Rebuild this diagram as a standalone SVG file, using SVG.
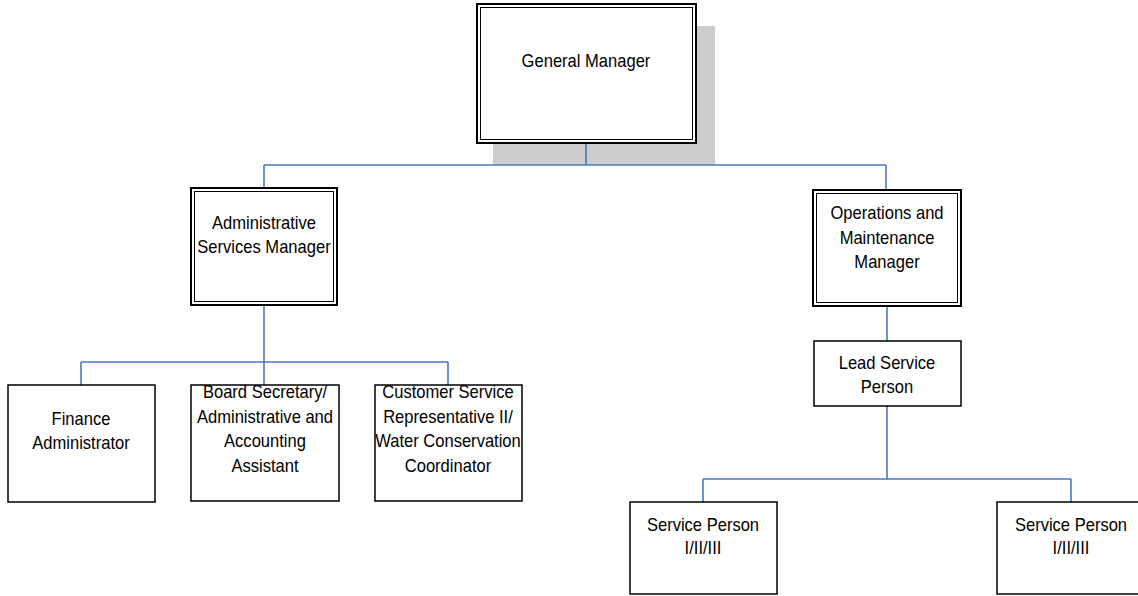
<svg xmlns="http://www.w3.org/2000/svg" width="1138" height="596" viewBox="0 0 1138 596">
<style>
text{font-family:"Liberation Sans",Arial,sans-serif;font-size:18.6px;fill:#000;text-anchor:middle}
.box{fill:#fff;stroke:#000;stroke-width:1.5}
.outer{fill:#fff;stroke:#000;stroke-width:2}
.inner{fill:none;stroke:#000;stroke-width:1}
.conn{fill:none;stroke:#4a78c2;stroke-width:1.6}
</style>
<rect x="0" y="0" width="1138" height="596" fill="#fff"/>
<rect x="493" y="26" width="222" height="139" fill="#cccccc"/>
<g id="connectors">
<path class="conn" d="M586 143V165M264 165H886M264 165V188M886 165V190"/>
<path class="conn" d="M264 305V362M81 362H448M81 362V385M264 362V385M448 362V385"/>
<path class="conn" d="M887 306V341"/>
<path class="conn" d="M887 406V479M703 479H1071M703 479V502M1071 479V502"/>
</g>
<g id="general-manager">
<rect class="outer" x="477" y="4" width="219" height="139"/>
<rect class="inner" x="480.5" y="7.5" width="212" height="132"/>
<g transform="matrix(0.89 0 0 1 64.46 0)"><text x="586" y="67">General Manager</text></g>
</g>
<g id="admin-services-manager">
<rect class="outer" x="191" y="188" width="146" height="117"/>
<rect class="inner" x="194.5" y="191.5" width="139" height="110"/>
<g transform="matrix(0.89 0 0 1 29.04 0)">
<text x="264" y="229">Administrative</text>
<text x="264" y="253">Services Manager</text>
</g>
</g>
<g id="ops-maintenance-manager">
<rect class="outer" x="813" y="190" width="148" height="116"/>
<rect class="inner" x="816.5" y="193.5" width="141" height="109"/>
<g transform="matrix(0.89 0 0 1 97.57 0)">
<text x="887" y="219">Operations and</text>
<text x="887" y="244">Maintenance</text>
<text x="887" y="268">Manager</text>
</g>
</g>
<g id="lead-service-person">
<rect class="box" x="814" y="341" width="147" height="65"/>
<g transform="matrix(0.89 0 0 1 97.57 0)">
<text x="887" y="369">Lead Service</text>
<text x="887" y="393">Person</text>
</g>
</g>
<g id="finance-administrator">
<rect class="box" x="8" y="385" width="147" height="117"/>
<g transform="matrix(0.89 0 0 1 8.91 0)">
<text x="81" y="425">Finance</text>
<text x="81" y="449">Administrator</text>
</g>
</g>
<g id="board-secretary">
<rect class="box" x="191" y="385" width="148" height="116"/>
<g transform="matrix(0.89 0 0 1 29.15 0)">
<text x="265" y="398">Board Secretary/</text>
<text x="265" y="423">Administrative and</text>
<text x="265" y="447">Accounting</text>
<text x="265" y="472">Assistant</text>
</g>
</g>
<g id="customer-service-rep">
<rect class="box" x="375" y="385" width="147" height="116"/>
<g transform="matrix(0.89 0 0 1 49.28 0)">
<text x="448" y="398">Customer Service</text>
<text x="448" y="423">Representative II/</text>
<text x="448" y="447">Water Conservation</text>
<text x="448" y="472">Coordinator</text>
</g>
</g>
<g id="service-person-1">
<rect class="box" x="630" y="502" width="147" height="92"/>
<g transform="matrix(0.89 0 0 1 77.33 0)">
<text x="703" y="531">Service Person</text>
<text x="703" y="554">I/II/III</text>
</g>
</g>
<g id="service-person-2">
<rect class="box" x="997" y="502" width="147" height="92"/>
<g transform="matrix(0.89 0 0 1 117.81 0)">
<text x="1071" y="531">Service Person</text>
<text x="1071" y="554">I/II/III</text>
</g>
</g>
</svg>
